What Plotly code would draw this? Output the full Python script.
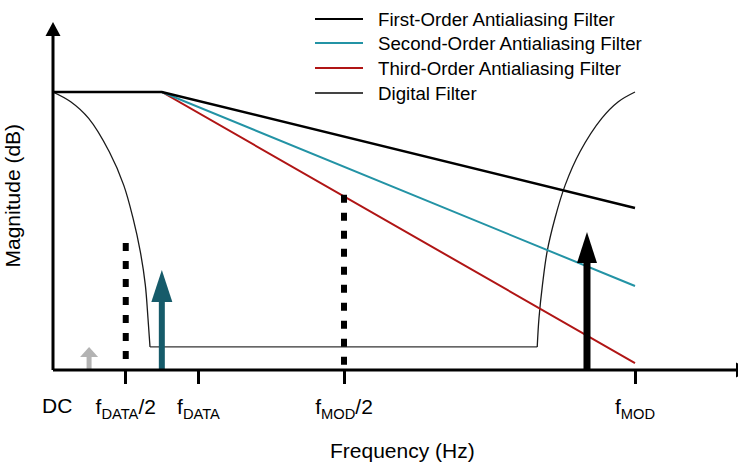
import plotly.graph_objects as go

# ---------------- data ----------------
tick_freq = [0.125, 0.25, 0.5, 1.0]
tick_text = ["f<sub>DATA</sub>/2", "f<sub>DATA</sub>", "f<sub>MOD</sub>/2", "f<sub>MOD</sub>"]

series_names = ["First-Order Antialiasing Filter", "Second-Order Antialiasing Filter",
                "Third-Order Antialiasing Filter", "Digital Filter"]

aa_freq = [0.0, 0.187, 1.0]
first_mag = [100.0, 100.0, 58.3]
second_mag = [100.0, 100.0, 30.2]
third_mag = [100.0, 100.0, 2.5]

dig_left_freq = [0.0, 0.0304, 0.0613, 0.0967, 0.1215, 0.1375, 0.150, 0.1586, 0.1632, 0.1667]
dig_left_mag = [100.0, 96.5, 90.5, 78.5, 66.5, 54.6, 42.6, 30.6, 18.6, 8.3]
dig_right_freq = [0.832, 0.835, 0.841, 0.849, 0.8625, 0.880, 0.9055, 0.9428, 0.9713, 1.0]
dig_right_mag = [8.3, 18.6, 30.6, 42.6, 54.6, 66.5, 78.5, 90.5, 96.5, 100.0]

tone_freq = [0.062, 0.187, 0.9175]
tone_mag = [8.3, 36.0, 49.6]

marker_freq = [0.125, 0.5]
marker_top = [45.7, 63.0]
marker_bottom = [2.9, 0.0]

# ---------------- styling ----------------
W, H = 738, 462
PLOT_L, PLOT_R, PLOT_T, PLOT_B = 53, 738, 0, 370   # plot area in pixels
ML, MR, MT, MB = PLOT_L, W - PLOT_R, PLOT_T, H - PLOT_B
PW, PH = PLOT_R - PLOT_L, PLOT_B - PLOT_T
X_PX = 582.0          # pixels per x unit
Y_PX = 2.78           # pixels per y unit
FONT = "Arial, Liberation Sans, sans-serif"

col_first = "#000000"
col_second = "#2393a5"
col_third = "#b01515"
col_dig = "#1a1a1a"
tone_colors = ["#b3b3b3", "#165b6a", "#000000"]
tone_head = [(9, 10, 5), (10.5, 32, 6), (10, 31, 7)]  # half width px, head height px, shaft width px


def px_x(px):
    return (px - PLOT_L) / PW


def px_y(py):
    return (PLOT_B - py) / PH


fig = go.Figure()

# digital filter
fig.add_trace(go.Scatter(x=dig_left_freq, y=dig_left_mag, mode="lines", line=dict(color=col_dig, width=1.3, shape="spline"),
                         showlegend=False, hoverinfo="skip"))
fig.add_trace(go.Scatter(x=[dig_left_freq[-1], dig_right_freq[0]], y=[dig_left_mag[-1], dig_right_mag[0]], mode="lines",
                         line=dict(color="#333333", width=1.3), showlegend=False, hoverinfo="skip"))
fig.add_trace(go.Scatter(x=dig_right_freq, y=dig_right_mag, mode="lines", line=dict(color=col_dig, width=1.3, shape="spline"),
                         showlegend=False, hoverinfo="skip"))

# antialiasing filters
for mags, col, w in [(third_mag, col_third, 2), (second_mag, col_second, 2), (first_mag, col_first, 2.5)]:
    fig.add_trace(go.Scatter(x=aa_freq, y=mags, mode="lines", line=dict(color=col, width=w), showlegend=False,
                             hoverinfo="skip"))

# dotted markers
for f, top, bot in zip(marker_freq, marker_top, marker_bottom):
    fig.add_trace(go.Scatter(x=[f, f], y=[top, bot], mode="lines", line=dict(color="black", width=6, dash="8px,10px"),
                             showlegend=False, hoverinfo="skip"))

# tones (arrows)
for f, m, c, (hw, hh, sw) in zip(tone_freq, tone_mag, tone_colors, tone_head):
    base = m - hh / Y_PX
    fig.add_trace(go.Scatter(x=[f, f], y=[0, base + 0.3], mode="lines", line=dict(color=c, width=sw),
                             showlegend=False, hoverinfo="skip"))
    fig.add_trace(go.Scatter(x=[f - hw / X_PX, f + hw / X_PX, f, f - hw / X_PX], y=[base, base, m, base],
                             mode="lines", fill="toself", fillcolor=c, line=dict(color=c, width=0),
                             showlegend=False, hoverinfo="skip"))

shapes = []
# axes
shapes.append(dict(type="line", xref="paper", yref="paper", x0=0, x1=px_x(737), y0=0, y1=0,
                   line=dict(color="black", width=3)))
shapes.append(dict(type="line", xref="paper", yref="paper", x0=0, x1=0, y0=0, y1=px_y(36),
                   line=dict(color="black", width=3)))
shapes.append(dict(type="path", xref="paper", yref="paper",
                   path=f"M {px_x(45.5)} {px_y(36)} L {px_x(60.5)} {px_y(36)} L {px_x(53)} {px_y(22)} Z",
                   fillcolor="black", line=dict(width=0)))
shapes.append(dict(type="path", xref="paper", yref="paper",
                   path=f"M {px_x(736)} {px_y(362.5)} L {px_x(736)} {px_y(377.5)} L {px_x(750)} {px_y(370)} Z",
                   fillcolor="black", line=dict(width=0)))

# legend
legend_rows = [19, 43, 68, 93]
legend_cols = [col_first, col_second, col_third, "#444444"]
annotations = []
for name, ry, c in zip(series_names, legend_rows, legend_cols):
    shapes.append(dict(type="line", xref="paper", yref="paper", x0=px_x(315), x1=px_x(363), y0=px_y(ry), y1=px_y(ry),
                       line=dict(color=c, width=2)))
    annotations.append(dict(text=name, xref="paper", yref="paper", x=px_x(376), y=px_y(ry), xanchor="left",
                            yanchor="middle", showarrow=False, font=dict(size=18.7, color="black", family=FONT)))

annotations.append(dict(text="DC", xref="paper", yref="paper", x=px_x(57), y=px_y(406), xanchor="center",
                        yanchor="middle", showarrow=False, font=dict(size=21, color="black", family=FONT)))
annotations.append(dict(text="Frequency (Hz)", xref="paper", yref="paper", x=px_x(402), y=px_y(450), xanchor="center",
                        yanchor="middle", showarrow=False, font=dict(size=21, color="black", family=FONT)))
annotations.append(dict(text="Magnitude (dB)", xref="paper", yref="paper", x=px_x(12.5), y=px_y(196), xanchor="center",
                        yanchor="middle", showarrow=False, textangle=-90, font=dict(size=21, color="black", family=FONT)))

fig.update_layout(
    width=W, height=H,
    margin=dict(l=ML, r=MR, t=MT, b=MB, pad=0),
    paper_bgcolor="white", plot_bgcolor="white",
    showlegend=False,
    shapes=shapes,
    annotations=annotations,
    xaxis=dict(range=[0, PW / X_PX], tickvals=tick_freq, ticktext=tick_text, ticks="outside", ticklen=13, tickwidth=3,
               tickcolor="black", showline=False, showgrid=False, zeroline=False,
               tickfont=dict(size=21, color="black", family=FONT), ticklabelstandoff=5, fixedrange=True),
    yaxis=dict(range=[0, PH / Y_PX], showticklabels=False, ticks="", showline=False, showgrid=False, zeroline=False,
               fixedrange=True),
)

fig.write_html("out.html", config={"displayModeBar": False},
               post_script="document.body.style.margin='0px';document.body.style.overflow='hidden';")
